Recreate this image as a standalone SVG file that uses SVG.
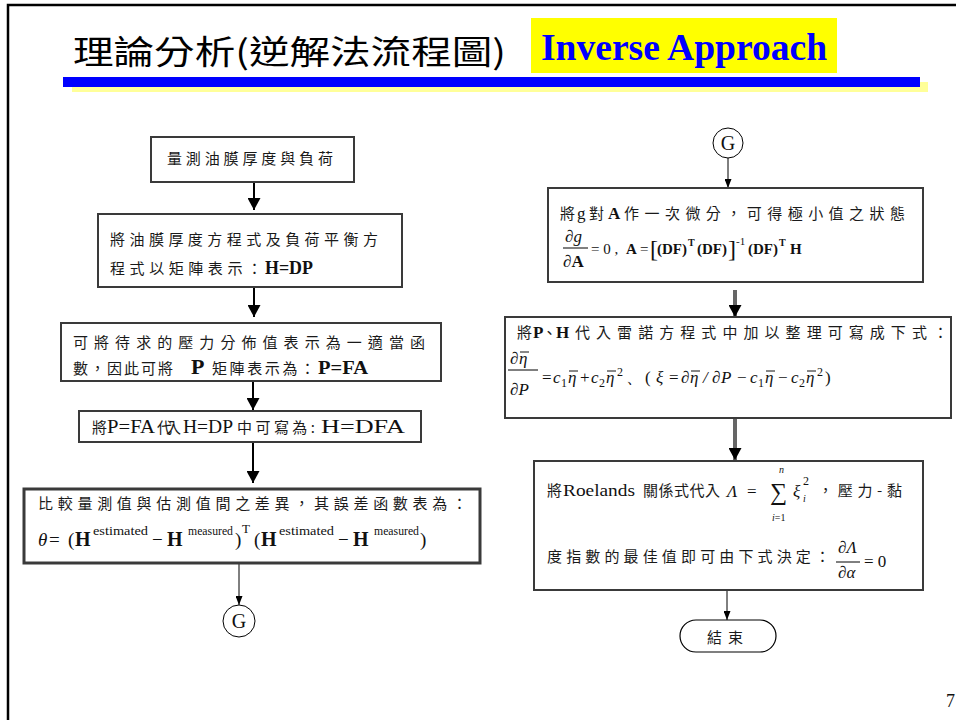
<svg xmlns="http://www.w3.org/2000/svg" width="956" height="720" viewBox="0 0 956 720">
<style>
.box{fill:#fff;stroke:#3a3a3a;stroke-width:2}
.zh{font-family:"Noto Sans CJK TC","Noto Sans CJK SC",sans-serif;font-size:15px;fill:#1a1a1a}
.tm{font-family:"Liberation Serif","Times New Roman",serif;fill:#111}
.b{font-weight:bold}
.i{font-style:italic}
.thick{stroke:#000;stroke-width:2;fill:none}
.grey{stroke:#666;stroke-width:4;fill:none}
.thin{stroke:#000;stroke-width:1;fill:none}
.ol{stroke:#111;stroke-width:1}
</style>
<defs>
<marker id="hd" viewBox="0 0 12 12" refX="12" refY="6" markerWidth="12" markerHeight="13" markerUnits="userSpaceOnUse" orient="auto" preserveAspectRatio="none"><path d="M0,0L12,6L0,12z" fill="#000"/></marker>
<marker id="hs" viewBox="0 0 9 7" refX="9" refY="3.5" markerWidth="9" markerHeight="7" markerUnits="userSpaceOnUse" orient="auto"><path d="M0,0L9,3.5L0,7z" fill="#000"/></marker>
</defs>
<rect x="0" y="0" width="956" height="720" fill="#fff"/>
<path d="M8,720V5H960" fill="none" stroke="#000" stroke-width="2.5"/>

<g id="title">
<text x="73" y="64" font-family="Noto Sans CJK TC, sans-serif" font-size="33" font-weight="400" textLength="433" lengthAdjust="spacingAndGlyphs" fill="#000">理論分析(逆解法流程圖)</text>
<rect x="531" y="18" width="306" height="55" fill="#ffff00"/>
<text x="541" y="60" class="tm b" font-size="37" style="fill:#0000ff" textLength="286" lengthAdjust="spacingAndGlyphs">Inverse Approach</text>
<rect x="72" y="82" width="856" height="10" fill="#ffff99"/>
<rect x="63" y="77" width="857" height="10" fill="#0000ff"/>
</g>

<g id="connectors">
<line class="thick" x1="254" y1="182" x2="254" y2="210" marker-end="url(#hd)"/>
<line class="thick" x1="254" y1="287" x2="254" y2="317" marker-end="url(#hd)"/>
<line class="thick" x1="253" y1="381" x2="253" y2="410" marker-end="url(#hd)"/>
<line class="thick" x1="253" y1="442" x2="253" y2="483" marker-end="url(#hd)"/>
<line class="thin" x1="239" y1="563" x2="239" y2="605" marker-end="url(#hs)"/>
<line class="thin" x1="728" y1="158" x2="728" y2="188" marker-end="url(#hs)"/>
<line class="grey" x1="735" y1="290" x2="735" y2="317" marker-end="url(#hd)"/>
<line class="grey" x1="735" y1="418" x2="735" y2="460" marker-end="url(#hd)"/>
<line class="thin" x1="727" y1="590" x2="727" y2="620" marker-end="url(#hs)"/>
</g>

<g id="n1">
<rect class="box" x="151" y="137" width="203" height="45"/>
<text class="zh" x="167" y="164" textLength="166" lengthAdjust="spacing">量測油膜厚度與負荷</text>
</g>

<g id="n2">
<rect class="box" x="98" y="214" width="304" height="73"/>
<text class="zh" x="110" y="245" font-size="16" textLength="268" lengthAdjust="spacing">將油膜厚度方程式及負荷平衡方</text>
<text class="zh" x="110" y="274" font-size="16" textLength="152" lengthAdjust="spacing">程式以矩陣表示：</text>
<text class="tm b" x="265" y="274" font-size="18" textLength="48" lengthAdjust="spacingAndGlyphs">H=DP</text>
</g>

<g id="n3">
<rect class="box" x="61" y="323" width="380" height="58"/>
<text class="zh" x="73" y="348" font-size="16" textLength="352" lengthAdjust="spacing">可將待求的壓力分佈值表示為一適當函</text>
<text class="zh" x="73" y="374" font-size="16" textLength="100" lengthAdjust="spacing">數，因此可將</text>
<text class="tm b" x="191" y="374" font-size="22">P</text>
<text class="zh" x="212" y="374" font-size="16" textLength="103" lengthAdjust="spacing">矩陣表示為：</text>
<text class="tm b" x="318" y="374" font-size="18" textLength="50" lengthAdjust="spacingAndGlyphs">P=FA</text>
</g>

<g id="n4">
<rect class="box" x="79" y="411" width="342" height="31"/>
<text class="zh" x="92" y="433">將</text>
<text class="tm" x="107" y="433" font-size="18" textLength="48" lengthAdjust="spacingAndGlyphs">P=FA</text>
<text class="zh" x="157" y="433" textLength="24" lengthAdjust="spacing">代入</text>
<text class="tm" x="183" y="433" font-size="18" textLength="50" lengthAdjust="spacingAndGlyphs">H=DP</text>
<text class="zh" x="237" y="433" textLength="78" lengthAdjust="spacing">中可寫為:</text>
<text class="tm" x="321" y="433" font-size="18" textLength="84" lengthAdjust="spacingAndGlyphs">H=DFA</text>
</g>

<g id="n5">
<rect class="box" x="24" y="489" width="456" height="74" style="stroke-width:3"/>
<text class="zh" x="38" y="509" font-size="16" textLength="429" lengthAdjust="spacing">比較量測值與估測值間之差異，其誤差函數表為：</text>
<text class="tm" y="546" font-size="19"><tspan x="38" class="i">θ</tspan><tspan x="49">=</tspan><tspan x="68">(</tspan><tspan x="75" class="b" font-size="20">H</tspan><tspan x="93" y="535" font-size="13" textLength="55" lengthAdjust="spacingAndGlyphs">estimated</tspan><tspan x="152" y="546">−</tspan><tspan x="167" class="b" font-size="20">H</tspan><tspan x="188" y="535" font-size="12" textLength="45" lengthAdjust="spacingAndGlyphs">measured</tspan><tspan x="235" y="546">)</tspan><tspan x="242" y="533" font-size="13">T</tspan><tspan x="254" y="546">(</tspan><tspan x="261" class="b" font-size="20">H</tspan><tspan x="279" y="535" font-size="13" textLength="55" lengthAdjust="spacingAndGlyphs">estimated</tspan><tspan x="338" y="546">−</tspan><tspan x="353" class="b" font-size="20">H</tspan><tspan x="374" y="535" font-size="12" textLength="45" lengthAdjust="spacingAndGlyphs">measured</tspan><tspan x="420" y="546">)</tspan></text>
</g>

<g id="g1">
<circle cx="239" cy="621" r="16" fill="#fff" stroke="#000" stroke-width="1"/>
<text class="tm" x="239" y="628" font-size="20" text-anchor="middle">G</text>
</g>

<g id="g2">
<circle cx="728" cy="143" r="15" fill="#fff" stroke="#000" stroke-width="1"/>
<text class="tm" x="728" y="150" font-size="20" text-anchor="middle">G</text>
</g>

<g id="n6">
<rect class="box" x="548" y="188" width="375" height="94"/>
<text class="zh" x="560" y="219">將</text>
<text class="tm" x="577" y="219" font-size="17">g</text>
<text class="zh" x="589" y="219">對</text>
<text class="tm b" x="608" y="219" font-size="17">A</text>
<text class="zh" x="624" y="219" textLength="281" lengthAdjust="spacing">作一次微分，可得極小值之狀態</text>
<text class="tm i" x="565" y="242" font-size="17">∂g</text>
<line x1="563" y1="248" x2="588" y2="248" stroke="#000" stroke-width="1"/>
<text class="tm" x="563" y="267" font-size="17"><tspan class="i">∂</tspan><tspan class="b">A</tspan></text>
<text class="tm" y="254" font-size="15"><tspan x="591">= 0 ,</tspan><tspan x="626" class="b">A</tspan><tspan x="640">=</tspan><tspan x="650" y="257" font-size="24">[</tspan><tspan x="657" y="254" class="b">(DF)</tspan><tspan x="688" y="246" font-size="10" class="b">T</tspan><tspan x="697" y="254" class="b">(DF)</tspan><tspan x="728" y="257" font-size="24">]</tspan><tspan x="736" y="245" font-size="11">-1</tspan><tspan x="748" y="254" class="b">(DF)</tspan><tspan x="779" y="246" font-size="10" class="b">T</tspan><tspan x="790" y="254" class="b">H</tspan></text>
</g>

<g id="n7">
<rect class="box" x="505" y="317" width="446" height="101"/>
<text class="zh" x="517" y="338">將</text>
<text class="tm b" x="533" y="338" font-size="17">P</text>
<text class="zh" x="542" y="338">、</text>
<text class="tm b" x="556" y="338" font-size="17">H</text>
<text class="zh" x="575" y="338" textLength="373" lengthAdjust="spacing">代入雷諾方程式中加以整理可寫成下式：</text>
<text class="tm i" y="364" font-size="17"><tspan x="510">∂</tspan><tspan x="519">η</tspan></text>
<line x1="508" y1="370" x2="538" y2="370" stroke="#000" stroke-width="1"/>
<text class="tm i" x="510" y="395" font-size="17">∂P</text>
<text class="tm" y="383" font-size="17"><tspan x="542">=</tspan><tspan x="553" class="i">c</tspan><tspan x="561" y="387" font-size="12">1</tspan><tspan x="568" y="383" class="i">η</tspan><tspan x="580">+</tspan><tspan x="591" class="i">c</tspan><tspan x="599" y="387" font-size="12">2</tspan><tspan x="606" y="383" class="i">η</tspan><tspan x="617" y="376" font-size="12">2</tspan><tspan x="626" y="383">、</tspan><tspan x="645">(</tspan><tspan x="656" class="i">ξ</tspan><tspan x="669">=</tspan><tspan x="681" class="i">∂</tspan><tspan x="690" class="i">η</tspan><tspan x="703" class="i">/</tspan><tspan x="712" class="i">∂</tspan><tspan x="721" class="i">P</tspan><tspan x="737">−</tspan><tspan x="750" class="i">c</tspan><tspan x="758" y="387" font-size="12">1</tspan><tspan x="765" y="383" class="i">η</tspan><tspan x="778">−</tspan><tspan x="791" class="i">c</tspan><tspan x="799" y="387" font-size="12">2</tspan><tspan x="806" y="383" class="i">η</tspan><tspan x="817" y="376" font-size="12">2</tspan><tspan x="825" y="383">)</tspan></text>
<g class="ol">
<line x1="520" y1="352" x2="529" y2="352"/>
<line x1="569" y1="371" x2="578" y2="371"/>
<line x1="607" y1="371" x2="616" y2="371"/>
<line x1="691" y1="371" x2="700" y2="371"/>
<line x1="766" y1="371" x2="775" y2="371"/>
<line x1="807" y1="371" x2="816" y2="371"/>
</g>
</g>

<g id="n8">
<rect class="box" x="534" y="461" width="389" height="129"/>
<text class="zh" x="547" y="496">將</text>
<text class="tm" x="563" y="496" font-size="17" textLength="72" lengthAdjust="spacingAndGlyphs">Roelands</text>
<text class="zh" x="643" y="496" textLength="77" lengthAdjust="spacing">關係式代入</text>
<text class="tm" y="497" font-size="17"><tspan x="727" class="i">Λ</tspan><tspan x="747">=</tspan><tspan x="770" y="500" font-size="24">∑</tspan><tspan x="793" y="497" class="i">ξ</tspan><tspan x="803" y="502" font-size="10" class="i">i</tspan><tspan x="803" y="485" font-size="12">2</tspan></text>
<text class="tm i" x="779" y="473" font-size="10">n</text>
<text class="tm" x="772" y="521" font-size="10"><tspan class="i">i</tspan>=1</text>
<text class="zh" x="818" y="496" textLength="84" lengthAdjust="spacing">，壓力-黏</text>
<text class="zh" x="547" y="562" textLength="283" lengthAdjust="spacing">度指數的最佳值即可由下式決定：</text>
<text class="tm i" x="838" y="553" font-size="17">∂Λ</text>
<line x1="836" y1="562" x2="860" y2="562" stroke="#000" stroke-width="1"/>
<text class="tm i" x="838" y="578" font-size="17">∂α</text>
<text class="tm" x="864" y="567" font-size="17">= 0</text>
</g>

<g id="end">
<rect x="680" y="620" width="96" height="32" rx="16" ry="16" fill="#fff" stroke="#000" stroke-width="1.2"/>
<text class="zh" x="728" y="643" font-size="17" text-anchor="middle" letter-spacing="6">結束</text>
</g>

<text class="tm" x="946" y="707" font-size="18">7</text>
</svg>
